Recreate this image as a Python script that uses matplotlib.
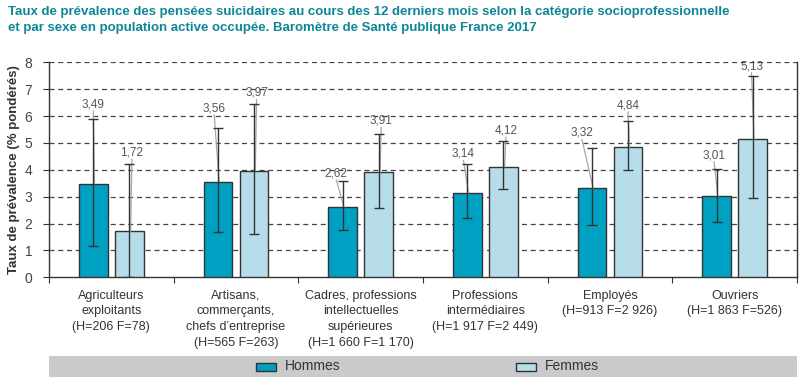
import numpy as np
import matplotlib
matplotlib.use("Agg")
import matplotlib.pyplot as plt
from matplotlib import font_manager
from matplotlib.patches import Rectangle

# data
categories = [
    "Agriculteurs\nexploitants\n(H=206 F=78)",
    "Artisans,\ncommerçants,\nchefs d\u2019entreprise\n(H=565 F=263)",
    "Cadres, professions\nintellectuelles\nsupérieures\n(H=1 660 F=1 170)",
    "Professions\nintermédiaires\n(H=1 917 F=2 449)",
    "Employés\n(H=913 F=2 926)",
    "Ouvriers\n(H=1 863 F=526)",
]
hommes = [3.49, 3.56, 2.62, 3.14, 3.32, 3.01]
hommes_low = [1.18, 1.67, 1.76, 2.20, 1.93, 2.06]
hommes_high = [5.89, 5.54, 3.58, 4.20, 4.80, 4.03]
femmes = [1.72, 3.97, 3.91, 4.12, 4.84, 5.13]
femmes_low = [0.0, 1.62, 2.58, 3.29, 3.98, 2.94]
femmes_high = [4.20, 6.44, 5.32, 5.06, 5.80, 7.49]

title = ("Taux de prévalence des pensées suicidaires au cours des 12 derniers mois selon la catégorie socioprofessionnelle\n"
         "et par sexe en population active occupée. Baromètre de Santé publique France 2017")

# label placement (x offset from bar centre, y position of the label)
h_lab_dx = [0.0, -0.03, -0.05, -0.03, -0.08, -0.02]
h_lab_y = [6.44, 6.29, 3.87, 4.59, 5.38, 4.55]
f_lab_dx = [0.02, 0.02, 0.02, 0.02, 0.0, -0.01]
f_lab_y = [4.64, 6.86, 5.82, 5.46, 6.40, 7.86]

available = {f.name for f in font_manager.fontManager.ttflist}
narrow = "Liberation Sans Narrow" if "Liberation Sans Narrow" in available else "Liberation Sans"
plt.rcParams["font.family"] = [narrow, "DejaVu Sans"]

c_h = "#00a0c3"
c_f = "#b6dde9"
dark = "#333333"

fig = plt.figure(figsize=(8.06, 3.9), dpi=100)
ax = fig.add_axes([49 / 806, 1 - 277.3 / 390, 748 / 806, 215 / 390])

x = np.arange(len(categories)) + 0.5
off = 0.145
w = 0.23
xh = x - off
xf = x + off

h = np.array(hommes)
f = np.array(femmes)
h_err = [h - np.array(hommes_low), np.array(hommes_high) - h]
f_err = [f - np.array(femmes_low), np.array(femmes_high) - f]

ax.bar(xh, h, w, color=c_h, edgecolor=dark, linewidth=1, zorder=3)
ax.bar(xf, f, w, color=c_f, edgecolor=dark, linewidth=1, zorder=3)
ax.errorbar(xh, h, yerr=h_err, fmt="none", ecolor=dark, elinewidth=1, capsize=3.5, capthick=1, zorder=5)
ax.errorbar(xf, f, yerr=f_err, fmt="none", ecolor=dark, elinewidth=1, capsize=3.5, capthick=1, zorder=5)

def fmt(v):
    return ("%.2f" % v).replace(".", ",")

for xs, vals, dxs, ys in [(xh, hommes, h_lab_dx, h_lab_y), (xf, femmes, f_lab_dx, f_lab_y)]:
    for xi, v, dx, ly in zip(xs, vals, dxs, ys):
        ax.plot([xi + dx, xi + 0.01], [ly - 0.25, v], color="#a8a8a8", lw=0.9, zorder=4)
        ax.text(xi + dx, ly, fmt(v), ha="center", va="center", fontsize=8.5, color="#555555", zorder=6)

ax.set_xlim(0, len(categories))
ax.set_ylim(0, 8)
ax.set_yticks(range(0, 9))
for yv in range(1, 9):
    ax.axhline(yv, color="#444444", lw=0.9, ls=(0, (4, 3)), zorder=1)

ax.set_xticks(np.arange(len(categories) + 1))
ax.set_xticklabels([])
ax.set_xticks(x, minor=True)
ax.set_xticklabels(categories, minor=True, fontsize=9, color="#333333", linespacing=1.4, va="top")
ax.tick_params(axis="x", which="major", length=4, color=dark, direction="out")
ax.tick_params(axis="x", which="minor", length=0, pad=9)
ax.tick_params(axis="y", length=4, color=dark, labelsize=10, labelcolor="#444444", pad=8)

for s in ["left", "bottom", "right"]:
    ax.spines[s].set_color(dark)
    ax.spines[s].set_linewidth(1)
ax.spines["top"].set_visible(False)

fig.text(14 / 806, 1 - 170 / 390, "Taux de prévalence (% pondérés)", rotation=90, ha="center", va="center",
         fontsize=9.5, fontweight="bold", color="#333333")

fig.text(8 / 806, 1 - 6 / 390, title, ha="left", va="top", fontsize=9.5, fontweight="bold",
         color="#0d8797", linespacing=1.5)

# legend band
lax = fig.add_axes([49 / 806, 1 - 377 / 390, 748 / 806, 21 / 390])
lax.set_facecolor("#c9cacc")
lax.set_xlim(49, 797)
lax.set_ylim(0, 21)
lax.set_xticks([])
lax.set_yticks([])
for s in lax.spines.values():
    s.set_visible(False)
for x0, col, lab in [(256, c_h, "Hommes"), (516, c_f, "Femmes")]:
    lax.add_patch(Rectangle((x0, 6.5), 20, 8, facecolor=col, edgecolor=dark, lw=1))
    lax.text(x0 + 29, 10.5, lab, va="center", ha="left", fontsize=10, color="#333333")

fig.savefig("out.png", dpi=100)
